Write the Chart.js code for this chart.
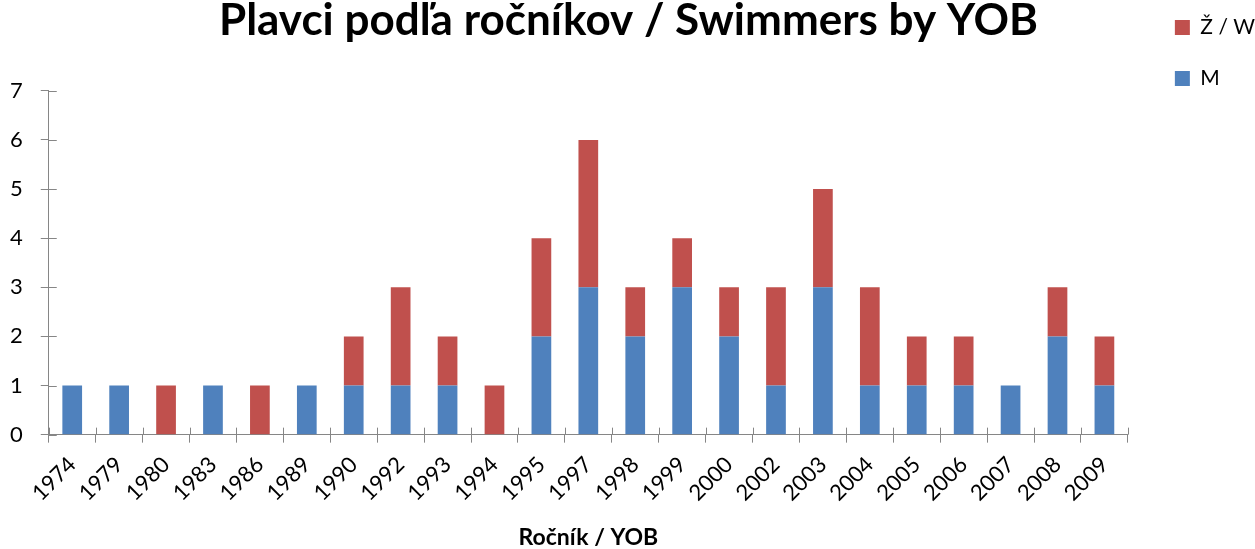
<!DOCTYPE html>
<html>
<head>
<meta charset="utf-8">
<script src="https://cdn.jsdelivr.net/npm/chart.js@4/dist/chart.umd.min.js"></script>
<style>
html,body{margin:0;padding:0;background:#fff;}
#wrap{width:1255px;height:549px;}
</style>
</head>
<body>
<div id="wrap"><canvas id="c" width="1255" height="549"></canvas></div>
<script>
const categories = ['1974','1979','1980','1983','1986','1989','1990','1992','1993','1994','1995','1997','1998','1999','2000','2002','2003','2004','2005','2006','2007','2008','2009'];
const menValues   = [1,1,0,1,0,1,1,1,1,0,2,3,2,3,2,1,3,1,1,1,1,2,1];
const womenValues = [0,0,1,0,1,0,1,2,1,1,2,3,1,1,1,2,2,2,1,1,0,1,1];
const yTicks = [0,1,2,3,4,5,6,7];

const AXIS = '#868686';
const FONT = 'Lato, "Open Sans", sans-serif';

const innerTicks = {
  id: 'innerTicks',
  afterDraw(chart) {
    const ctx = chart.ctx;
    const x = chart.scales.x, y = chart.scales.y;
    ctx.save();
    ctx.strokeStyle = AXIS;
    ctx.lineWidth = 1;
    ctx.beginPath();
    const n = categories.length;
    for (let i = 0; i <= n; i++) {
      const px = Math.round(x.left + i * (x.width / n)) + 0.5;
      ctx.moveTo(px, y.bottom);
      ctx.lineTo(px, y.bottom - 7);
    }
    yTicks.forEach(v => {
      const py = Math.round(y.getPixelForValue(v)) + 0.5;
      ctx.moveTo(x.left, py);
      ctx.lineTo(x.left + 8, py);
    });
    ctx.stroke();
    ctx.restore();
  }
};

new Chart(document.getElementById('c'), {
  type: 'bar',
  data: {
    labels: categories,
    datasets: [
      { label: 'M', data: menValues, backgroundColor: '#4F81BD', borderWidth: 0 },
      { label: 'Ž / W', data: womenValues, backgroundColor: '#C0504D', borderWidth: 0 }
    ]
  },
  options: {
    responsive: false,
    animation: false,
    layout: { padding: { left: -8, right: -10, top: -13, bottom: -2 } },
    datasets: { bar: { categoryPercentage: 1, barPercentage: 0.42 } },
    plugins: {
      title: {
        display: true,
        text: 'Plavci podľa ročníkov / Swimmers by YOB',
        color: '#000',
        font: { family: FONT, size: 44, weight: 'bold' },
        padding: { top: 7, bottom: 44 }
      },
      legend: {
        position: 'right',
        align: 'start',
        reverse: true,
        labels: {
          color: '#000',
          font: { family: FONT, size: 21 },
          boxWidth: 15,
          boxHeight: 15,
          padding: 30
        }
      },
      tooltip: { enabled: false }
    },
    scales: {
      x: {
        stacked: true,
        border: { color: AXIS, width: 1 },
        grid: { display: true, drawOnChartArea: false, drawTicks: true, tickLength: 8, color: AXIS, offset: true },
        ticks: { color: '#000', font: { family: FONT, size: 22 }, minRotation: 45, maxRotation: 45, autoSkip: false, padding: 9 },
        title: { display: true, text: 'Ročník / YOB', color: '#000', font: { family: FONT, size: 23, weight: 'bold' }, padding: { top: 8, bottom: 0 } },
        afterFit(s) { s.paddingLeft = 0; s.paddingRight = 0; }
      },
      y: {
        stacked: true,
        min: 0,
        max: 7,
        border: { color: AXIS, width: 1 },
        grid: { display: true, drawOnChartArea: false, drawTicks: true, tickLength: 8, color: AXIS },
        ticks: { color: '#000', font: { family: FONT, size: 22 }, stepSize: 1, padding: 18 }
      },
      y2: {
        position: 'right',
        display: true,
        grid: { display: false },
        border: { display: false },
        ticks: { display: false },
        afterFit(s) { s.width = 17; }
      }
    }
  },
  plugins: [innerTicks]
});
</script>
</body>
</html>
